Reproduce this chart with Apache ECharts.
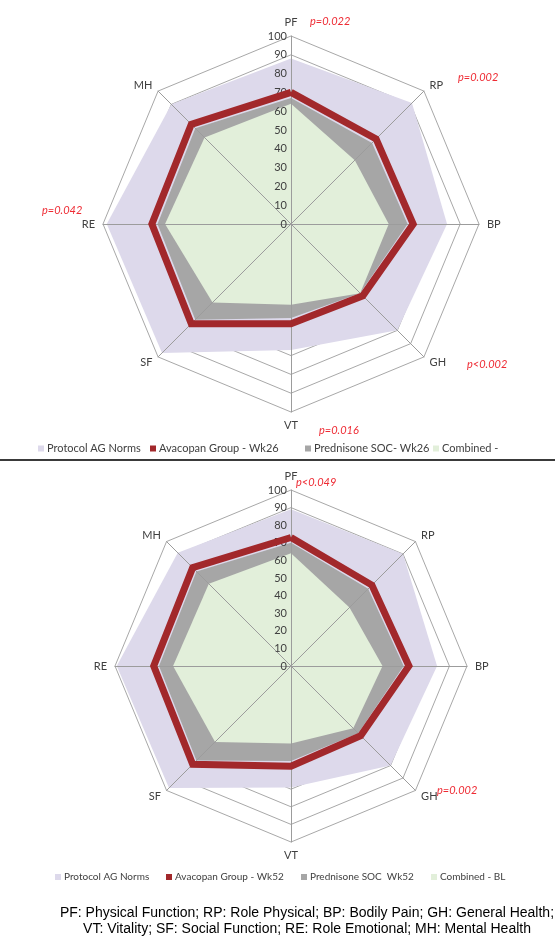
<!DOCTYPE html>
<html><head><meta charset="utf-8">
<script src="https://cdn.jsdelivr.net/npm/echarts@6/dist/echarts.min.js"></script>
<style>html,body{margin:0;padding:0;background:#fff}#c{width:555px;height:936px}</style>
</head><body><div id="c"></div>
<script>
// ---------- data ----------
const indicators = ['PF', 'RP', 'BP', 'GH', 'VT', 'SF', 'RE', 'MH'];
const axisMin = 0, axisMax = 100, axisStep = 10;

// Top chart (Week 26)
const norms26      = [88, 91, 83, 80, 67, 97, 98, 90];
const avacopan26   = [70, 64, 65, 54, 53, 75, 74, 75];
const prednisone26 = [67, 61, 62, 52, 50, 72, 71, 72];
const combined26   = [64, 48, 52, 52, 43, 59, 67, 65];
const names26 = ['Protocol AG Norms', 'Avacopan Group - Wk26', 'Prednisone SOC- Wk26', 'Combined -'];
const pvals26 = ['p=0.022', 'p=0.002', 'p<0.002', 'p=0.016', 'p=0.042'];

// Bottom chart (Week 52)
const norms52      = [89, 90, 83, 80, 69, 98, 99, 91];
const avacopan52   = [73, 65, 67, 56, 57, 79, 78, 79];
const prednisone52 = [70, 62, 64, 54, 54, 76, 75, 76];
const combined52   = [64, 47, 52, 50, 44, 61, 67, 66];
const names52 = ['Protocol AG Norms', 'Avacopan Group - Wk52', 'Prednisone SOC  Wk52', 'Combined - BL'];
const pvals52 = ['p<0.049', 'p=0.002'];

const footnote1 = 'PF: Physical Function; RP: Role Physical; BP: Bodily Pain; GH: General Health;';
const footnote2 = 'VT: Vitality; SF: Social Function; RE: Role Emotional; MH: Mental Health';

// ---------- styles / layout ----------
const C_NORM = '#DDD9EB', C_RED = '#A2282B', C_GRAY = '#A6A6A6', C_GREEN = '#E2EFDA';
const GRID = '#A8A8A8', TXT = '#404040', PRED = '#EE2A33';
const FONT = 'Lato, "Open Sans", sans-serif';

// ECharts lays indicators counter-clockwise; reorder so the picture runs clockwise
const order = [0, 7, 6, 5, 4, 3, 2, 1];
const ro = arr => order.map(i => arr[i]);

function gridRadar(center, radius) {
  return {
    center, radius, startAngle: 90, shape: 'polygon', splitNumber: (axisMax - axisMin) / axisStep,
    indicator: ro(indicators).map(n => ({ name: n, min: axisMin, max: axisMax })),
    axisName: { color: TXT, fontSize: 11, fontFamily: FONT },
    nameGap: 8,
    splitLine: { lineStyle: { color: GRID, width: 1 } },
    splitArea: { show: false },
    axisLine: { show: false },
    axisTick: { show: false },
    axisLabel: { show: false },
    z: 1
  };
}
function axisRadar(center, radius) {
  return {
    center, radius, startAngle: 90, shape: 'polygon', splitNumber: (axisMax - axisMin) / axisStep,
    indicator: ro(indicators).map((n, i) => ({
      name: n, min: axisMin, max: axisMax,
      axisLabel: { show: i === 0 }
    })),
    axisName: { show: false },
    splitLine: { show: false },
    splitArea: { show: false },
    axisLine: { show: true, lineStyle: { color: '#9C9C9C', width: 1 } },
    axisTick: { show: false },
    axisLabel: { show: false, color: TXT, fontSize: 11, fontFamily: FONT, margin: 4, showMinLabel: true, showMaxLabel: true },
    z: 3
  };
}
function areaSeries(name, data, color, radarIndex, z) {
  return {
    type: 'radar', name, radarIndex, z, symbol: 'none', silent: true,
    itemStyle: { color },
    lineStyle: { width: 0, opacity: 0 },
    areaStyle: { color, opacity: 1 },
    data: [{ value: ro(data), name }]
  };
}
function lineSeries(name, data, color, radarIndex, z) {
  return {
    type: 'radar', name, radarIndex, z, symbol: 'none', silent: true,
    itemStyle: { color },
    lineStyle: { width: 7, color, join: 'miter' },
    data: [{ value: ro(data), name }]
  };
}
function legendItem(name, color, left, top, fs) {
  return {
    data: [{ name, itemStyle: { color } }], left, top, orient: 'horizontal',
    icon: 'rect', itemWidth: 6, itemHeight: 6, itemGap: 0, selectedMode: false,
    textStyle: { color: TXT, fontSize: fs, fontFamily: FONT, padding: [0, 0, 0, -2] }
  };
}
function ptext(text, x, y) {
  return { type: 'text', x, y, style: { text, fill: PRED, font: 'italic 11px ' + FONT, textVerticalAlign: 'middle' }, z: 10 };
}
const FOOT_FONT = '14px "Liberation Sans", Arial, sans-serif';

const option = {
  animation: false,
  backgroundColor: '#fff',
  radar: [
    gridRadar([291, 224], 188), axisRadar([291, 224], 188),
    gridRadar([291, 666], 176), axisRadar([291, 666], 176)
  ],
  legend: [
    legendItem(names26[0], C_NORM, 33, 438, 11),
    legendItem(names26[1], C_RED, 145, 438, 11),
    legendItem(names26[2], C_GRAY, 300, 438, 11),
    legendItem(names26[3], C_GREEN, 428, 438, 11),
    legendItem(names52[0], C_NORM, 50, 867, 10),
    legendItem(names52[1], C_RED, 161, 867, 10),
    legendItem(names52[2], C_GRAY, 296, 867, 10),
    legendItem(names52[3], C_GREEN, 426, 867, 10)
  ],
  series: [
    areaSeries(names26[0], norms26, C_NORM, 0, 2),
    areaSeries(names26[2], prednisone26, C_GRAY, 0, 2),
    areaSeries(names26[3], combined26, C_GREEN, 0, 2),
    lineSeries(names26[1], avacopan26, C_RED, 0, 4),
    areaSeries(names52[0], norms52, C_NORM, 2, 2),
    areaSeries(names52[2], prednisone52, C_GRAY, 2, 2),
    areaSeries(names52[3], combined52, C_GREEN, 2, 2),
    lineSeries(names52[1], avacopan52, C_RED, 2, 4)
  ],
  graphic: [
    ptext(pvals26[0], 310, 21),
    ptext(pvals26[1], 458, 77),
    ptext(pvals26[2], 467, 364),
    ptext(pvals26[3], 319, 430),
    ptext(pvals26[4], 42, 210),
    ptext(pvals52[0], 296, 482),
    ptext(pvals52[1], 437, 790),
    { type: 'line', shape: { x1: 0, y1: 460, x2: 555, y2: 460 }, style: { stroke: '#3A3A3A', lineWidth: 2 }, z: 10 },
    { type: 'text', x: 307, y: 913, style: { text: footnote1, fill: '#000', font: FOOT_FONT, textAlign: 'center', textVerticalAlign: 'middle' }, z: 10 },
    { type: 'text', x: 307, y: 929, style: { text: footnote2, fill: '#000', font: FOOT_FONT, textAlign: 'center', textVerticalAlign: 'middle' }, z: 10 }
  ]
};
const chart = echarts.init(document.getElementById('c'), null, { renderer: 'canvas' });
chart.setOption(option);
</script></body></html>
